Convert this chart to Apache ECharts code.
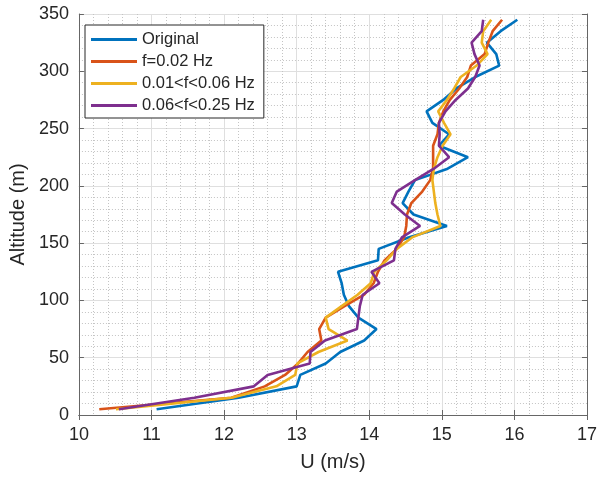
<!DOCTYPE html>
<html>
<head>
<meta charset="utf-8">
<script src="https://cdn.jsdelivr.net/npm/echarts@6/dist/echarts.min.js"></script>
<style>
  html, body { margin: 0; padding: 0; background: #fff; }
  #chart { width: 600px; height: 479px; }
</style>
</head>
<body>
<div id="chart"></div>
<script>
const altitude = [5, 15, 25, 35, 45, 55, 65, 75, 85, 95, 105, 115, 125, 135, 145, 155, 165, 175,
  185, 195, 205, 215, 225, 235, 245, 255, 265, 275, 285, 295, 305, 315, 325, 335, 345];

const original = [11.07, 12.2, 13.0, 13.05, 13.4, 13.6, 13.93, 14.1, 13.85, 13.72, 13.65, 13.62,
  13.57, 14.12, 14.13, 14.54, 15.07, 14.61, 14.46, 14.54, 14.63, 15.08, 15.36, 14.96, 15.1,
  14.87, 14.79, 15.02, 15.2, 15.46, 15.79, 15.75, 15.62, 15.81, 16.04];

const f002 = [10.28, 12.1, 12.56, 12.84, 13.02, 13.15, 13.34, 13.31, 13.4, 13.66, 13.93, 14.06,
  14.12, 14.21, 14.38, 14.48, 14.51, 14.52, 14.58, 14.73, 14.84, 14.88, 14.88, 14.88, 14.94,
  14.96, 15.02, 15.11, 15.24, 15.35, 15.4, 15.59, 15.64, 15.7, 15.83];

const band1 = [10.51, 12.1, 12.72, 12.98, 13.01, 13.3, 13.7, 13.44, 13.4, 13.62, 13.84, 14.02,
  14.07, 14.24, 14.38, 14.59, 14.98, 14.94, 14.91, 14.89, 14.87, 14.89, 14.94, 15.01, 15.12,
  15.03, 14.95, 15.07, 15.17, 15.26, 15.48, 15.63, 15.55, 15.57, 15.68];

const band2 = [10.55, 11.59, 12.41, 12.6, 13.18, 13.19, 13.39, 13.83, 13.85, 13.87, 13.91, 14.14,
  14.03, 14.34, 14.36, 14.45, 14.7, 14.49, 14.31, 14.38, 14.63, 14.89, 15.1, 14.96, 14.97,
  14.96, 15.05, 15.19, 15.36, 15.46, 15.52, 15.45, 15.41, 15.55, 15.57];

const seriesNames = ['Original', 'f=0.02 Hz', '0.01<f<0.06 Hz', '0.06<f<0.25 Hz'];
const seriesValues = [original, f002, band1, band2];
const colors = ['#0072BD', '#D95319', '#EDB120', '#7E2F8E'];

const FONT = 'Liberation Sans, Arial, sans-serif';
const AXIS_COLOR = '#666';
const TEXT_COLOR = '#262626';

function axisBase(showLabels) {
  return {
    type: 'value',
    axisLine: { show: true, lineStyle: { color: AXIS_COLOR, width: 1 } },
    axisTick: { show: true, inside: true, length: 5, lineStyle: { color: AXIS_COLOR } },
    axisLabel: { show: showLabels, color: TEXT_COLOR, fontFamily: FONT, fontSize: 18 },
    minorTick: { show: false, splitNumber: 5 },
    splitLine: { show: showLabels, lineStyle: { color: '#dfdfdf', width: 1 } },
    minorSplitLine: { show: showLabels, lineStyle: { color: '#c4c4c4', width: 1, type: [1, 2] } }
  };
}

const chart = echarts.init(document.getElementById('chart'));

const xMain = Object.assign(axisBase(true), {
  min: 10, max: 17, interval: 1, position: 'bottom',
  name: 'U (m/s)', nameLocation: 'middle', nameGap: 37,
  nameTextStyle: { color: TEXT_COLOR, fontFamily: FONT, fontSize: 20 }
});
xMain.axisLabel.margin = 11;
xMain.minorTick.show = false;

const yMain = Object.assign(axisBase(true), {
  min: 0, max: 350, interval: 50, position: 'left',
  name: 'Altitude (m)', nameLocation: 'middle', nameGap: 43,
  nameTextStyle: { color: TEXT_COLOR, fontFamily: FONT, fontSize: 20 }
});
yMain.axisLabel.margin = 10;

const xTop = Object.assign(axisBase(false), { min: 10, max: 17, interval: 1, position: 'top' });
const yRight = Object.assign(axisBase(false), { min: 0, max: 350, interval: 50, position: 'right' });

chart.setOption({
  animation: false,
  backgroundColor: '#fff',
  grid: { left: 73, right: 11, top: 14, bottom: 64 },
  legend: {
    orient: 'vertical',
    left: 85,
    top: 25,
    padding: [6, 9, 4, 6],
    itemGap: 5,
    itemWidth: 46,
    itemHeight: 3,
    icon: 'rect',
    backgroundColor: '#fff',
    borderColor: '#262626',
    borderWidth: 1,
    borderRadius: 0,
    textStyle: { color: TEXT_COLOR, fontFamily: FONT, fontSize: 16.5, padding: [0, 0, 0, 0] },
    data: seriesNames
  },
  xAxis: [xMain, xTop],
  yAxis: [yMain, yRight],
  series: seriesNames.map((name, i) => ({
    name: name,
    type: 'line',
    xAxisIndex: 0,
    yAxisIndex: 0,
    showSymbol: false,
    symbol: 'none',
    color: colors[i],
    lineStyle: { width: 2.6, color: colors[i] },
    data: altitude.map((h, k) => [seriesValues[i][k], h])
  }))
});
</script>
</body>
</html>
